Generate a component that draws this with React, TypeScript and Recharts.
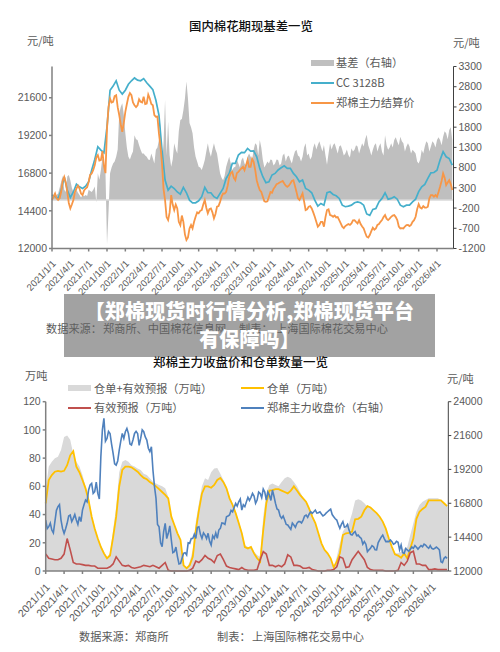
// 国内棉花期现基差 + 郑棉仓单 two-panel page, half-month samples
// the *Mid arrays hold the readings between two half-month samples (jumpy series only)

import { ComposedChart, Area, Line, XAxis, YAxis, ReferenceLine } from 'recharts'

const QUARTER_LABELS = [
  '2021/1/1', '2021/4/1', '2021/7/1', '2021/10/1', '2022/1/1', '2022/4/1', '2022/7/1', '2022/10/1',
  '2023/1/1', '2023/4/1', '2023/7/1', '2023/10/1', '2024/1/1', '2024/4/1', '2024/7/1', '2024/10/1',
  '2025/1/1', '2025/4/1', '2025/7/1', '2025/10/1', '2026/1/1', '2026/4/1',
]

const TOP_LEFT_TICKS = [12000, 14400, 16800, 19200, 21600]
const TOP_RIGHT_TICKS = [-1200, -700, -200, 300, 800, 1300, 1800, 2300, 2800, 3300]
const BOTTOM_LEFT_TICKS = [0, 20, 40, 60, 80, 100, 120]
const BOTTOM_RIGHT_TICKS = [12000, 14400, 16800, 19200, 21600, 24000]

const spotCC = [
  15400, 15300, 15200, 15700, 16560, 15720, 15250, 15600, 16100, 15930, 15820, 15970,
  16250, 17000, 17670, 18480, 18270, 18100, 19750, 22080, 22340, 22680, 22080, 21830,
  22080, 22460, 22680, 22860, 22720, 22680, 22820, 22550, 22340, 22120, 21440, 20490,
  18270, 16360, 15720, 15970, 15820, 15600, 15460, 15890, 15550, 15080, 14910, 14910,
  15040, 15300, 15890, 15550, 15550, 15300, 15190, 15510, 15820, 16460, 16780, 17420,
  17420, 17950, 18120, 18100, 18370, 18200, 18220, 17840, 17100, 16570, 16190, 16250,
  16680, 16780, 17000, 17140, 17270, 17100, 17100, 16780, 16570, 16250, 16360, 15820,
  15720, 15550, 15080, 14700, 14870, 14760, 15550, 15610, 15440, 15360, 15190, 14760,
  14660, 14700, 14760, 14910, 14970, 14910, 14760, 14200, 14110, 14490, 14550, 14970,
  15190, 15550, 15140, 15190, 15300, 15140, 14760, 14660, 14760, 14760, 14970, 15140,
  15620, 15930, 16080, 16460, 16820, 16840, 16990, 17630, 18160, 17840, 17730, 17310,
]

const settle = [
  15090, 15510, 15090, 15610, 16560, 15610, 14550, 15090, 15820, 15820, 15400, 15820,
  16250, 16780, 17310, 17950, 17630, 17270, 19640, 21550, 21340, 21760, 20490, 19430,
  20700, 21660, 21760, 21120, 21120, 21340, 21660, 21230, 21550, 21120, 20390, 19330,
  17420, 15090, 13810, 15400, 14450, 14550, 13490, 13700, 12540, 13280, 13280, 14020,
  14240, 14450, 15090, 14240, 14550, 13920, 14660, 14970, 15510, 15610, 16560, 16880,
  16350, 16880, 17100, 16990, 17630, 17200, 17520, 16350, 15720, 15300, 14970, 15300,
  15550, 15930, 16140, 16250, 16140, 15930, 16140, 16350, 15620, 15090, 15510, 14450,
  14660, 14550, 14020, 13390, 13700, 13390, 14450, 14130, 14020, 13980, 13810, 13390,
  13430, 13560, 13600, 13810, 13600, 13560, 13280, 12750, 12860, 13320, 13280, 13560,
  13810, 14130, 13810, 14020, 14130, 13810, 13280, 13280, 13490, 13430, 13700, 14020,
  14830, 14550, 14610, 14660, 15400, 15300, 15300, 15930, 16780, 16040, 16350, 15720,
]

const settleMid = [
  15300, 15200, 15200, 16300, 16200, 14900, 14800, 15600, 16000, 15500, 15700, 15900,
  16700, 17000, 17800, 17600, 18200, 16800, 21000, 21300, 21700, 21000, 19900, 20000,
  21200, 21900, 21300, 21000, 21500, 21300, 21200, 21800, 21200, 20500, 20400, 18500,
  15800, 14000, 14300, 14800, 14800, 13700, 14100, 12900, 12700, 13500, 13700, 14300,
  14400, 14800, 14600, 14500, 14300, 14200, 14700, 15300, 15500, 16000, 16800, 16500,
  16800, 17000, 17200, 17300, 17200, 17700, 17000, 16000, 15600, 15000, 15000, 15600,
  15800, 16100, 16200, 16300, 16000, 16000, 16300, 16000, 15200, 15300, 15000, 14500,
  14700, 14300, 13700, 13500, 13700, 14000, 14500, 14100, 14100, 14000, 13600, 13300,
  13500, 13500, 13800, 13700, 13800, 13400, 13000, 12700, 13100, 13200, 13500, 13700,
  14000, 13900, 13900, 14100, 14000, 13400, 13300, 13400, 13500, 13500, 13800, 14500,
  14600, 14700, 14600, 15200, 15400, 15400, 15600, 16300, 16500, 16200, 16100,
]

const basis = [
  120, 80, 160, 450, 250, 580, 490, 200, 250, 120, 120, 120,
  250, 200, 330, 660, 740, 900, -1100, 660, 900, 1070, 2140, 2390,
  1650, 1070, 1110, 1600, 1480, 1240, 1150, 1070, 990, 1030, 1240, 1480,
  900, 2470, 1940, 820, 1400, 1150, 1980, 2220, 2930, 1900, 1650, 1070,
  820, 740, 990, 1400, 1070, 1400, 1150, 660, 490, 820, 1070, 740,
  820, 900, 990, 900, 1070, 1070, 1240, 1360, 1480, 990, 870, 900,
  990, 900, 990, 900, 1150, 1070, 990, 1070, 1240, 1070, 1070, 1400,
  1150, 1070, 1400, 1360, 1320, 1360, 870, 1400, 1360, 1280, 1320, 1240,
  1150, 1110, 1280, 1240, 1320, 1280, 1320, 1610, 1240, 1240, 1400, 1320,
  1190, 1600, 1240, 1400, 1480, 1440, 1560, 1400, 1320, 1320, 1240, 1150,
  900, 1240, 1320, 1400, 1320, 1400, 1480, 1480, 1560, 1650, 1730, 1480,
]

const basisMid = [
  60, 120, 300, 600, 200, 620, 300, 150, 180, 60, 90, 100,
  220, 250, -60, 500, 1050, 700, -300, 800, 950, 1250, 2300, 2100,
  1300, 1000, 1200, 1500, 1350, 1150, 1100, 1000, 1150, 900, 1300, 1900,
  1400, 1100, 1100, 1000, 1250, 1700, 2000, 2500, 2500, 1800, 1300, 950,
  800, 850, 1200, 1200, 1250, 1250, 900, 550, 600, 950, 900, 800,
  1000, 800, 1050, 850, 1150, 1000, 1400, 1100, 1300, 800, 950, 1000,
  850, 1000, 850, 1100, 950, 1100, 900, 1200, 1100, 950, 1300, 1100,
  1000, 1300, 1250, 1450, 1200, 1100, 1150, 1250, 1400, 1150, 1350, 1100,
  1250, 1050, 1200, 1350, 1150, 1400, 1500, 1350, 1100, 1350, 1200, 1400,
  1100, 1350, 1300, 1300, 1550, 1350, 1450, 1200, 1400, 1150, 1200, 950,
  1000, 1150, 1450, 1200, 1450, 1300, 1550, 1350, 1700, 1500, 1800,
]

const receiptsPlusForecast = [
  57, 74, 77.5, 80, 81, 85.7, 95, 96, 93, 83, 77.5, 74,
  68, 60, 52.7, 39.7, 31.4, 24, 18.4, 13.7, 10, 12.5, 29, 45.6,
  70, 77.5, 78.6, 77.5, 75, 74, 72.7, 71.6, 69, 68, 65.7, 63.3,
  62, 61, 60, 58.6, 52.7, 38.5, 32.6, 26.7, 22, 4.2, 2, 6.6,
  15, 35, 48, 60, 65.7, 64.5, 70, 72.7, 73, 69, 64.5, 60,
  52.7, 48, 42, 35, 28, 18.4, 17, 17, 13.7, 11.3, 10, 38.5,
  55, 61, 62, 61, 60, 63, 65.7, 66.8, 65.7, 63, 60, 56,
  52, 49.8, 45.6, 38.5, 33.8, 26.7, 19.6, 15, 12.5, 9, 3, 10,
  19.6, 28, 31.4, 33.8, 41, 50, 50.8, 50, 48, 45.6, 44.4, 42.5,
  40.4, 38, 34.5, 30, 23, 17, 12.5, 12.5, 13.7, 16, 17, 25.5,
  33.8, 42, 46.8, 49, 50.3, 51.5, 51.5, 51.5, 51.5, 50.3, 48, 46,
]

const receipts = [
  47.9, 64.5, 68, 70.4, 71, 70.4, 71, 75, 82, 85, 74, 70,
  64.5, 58.6, 50, 38.5, 30, 23, 17, 12.5, 9, 11, 24, 38.5,
  60, 71.6, 74, 74, 73.5, 72, 70.4, 68, 66, 65, 63, 61.6,
  60, 58, 56, 54, 51.5, 38.5, 32.6, 26.7, 22, 4, 2, 4,
  10, 29, 43, 55, 60, 60, 59, 61, 64.5, 66, 63, 58.6,
  51.5, 46.8, 41, 34, 26.7, 17, 16, 17, 12.5, 9, 6.6, 29,
  48, 57, 57.4, 58, 58, 57, 56, 55, 57, 60, 57, 54,
  51.5, 49, 44, 38.5, 34, 26.7, 19.6, 15, 12.5, 9, 2.6, 6.6,
  12.5, 25.5, 26.7, 27, 28, 36.6, 37, 38.5, 43, 46, 45, 43,
  41, 38.5, 35, 30, 23, 17, 11.8, 10.9, 9.4, 12.5, 9, 16,
  23, 37, 42, 44, 45.6, 50, 50, 50, 50, 50, 48, 46,
]

const forecast = [
  12, 9, 8.5, 8, 8, 9, 12, 23, 15, 6, 5, 5,
  4.5, 4, 4, 3.5, 3.5, 2, 2, 2, 2, 3, 5, 10,
  7, 4, 3.5, 4, 2.5, 2, 2.5, 3, 4, 3.5, 3, 4,
  3, 2, 4, 6, 0.5, 0, 0, 0, 0, 0, 0, 0.5,
  2, 7, 6, 8, 11, 9, 8, 6, 11, 12, 8, 3.5,
  2.5, 2, 1.5, 1, 2.5, 1, 0.5, 0.5, 0.5, 1, 8, 13.7,
  12, 4, 4, 3, 4, 3, 5, 11.5, 10, 4, 4, 3.5,
  2, 2, 2.5, 1, 0.5, 0, 0, 0, 0.5, 0.5, 1, 3,
  10, 9, 2.5, 3, 8, 11, 14, 11, 8, 2.5, 1, 0.5,
  0.5, 0.5, 0.5, 0, 0, 0, 0, 0.5, 6, 4, 7, 13,
  14, 5, 5, 4, 4, 1, 1, 1.5, 1, 1, 1, 1,
]

const closePrice = [
  15610, 15140, 14900, 15500, 16560, 15610, 14670, 15380, 15970, 15730, 15610, 15850,
  16320, 17030, 17740, 18210, 17620, 17500, 20100, 22820, 21400, 21750, 20340, 19510,
  20570, 21750, 21870, 21750, 20930, 21750, 21750, 21400, 21870, 21280, 20460, 19160,
  17150, 15140, 13720, 15380, 14670, 14200, 13370, 13020, 12540, 13250, 13130, 13960,
  14310, 14310, 15140, 14310, 14550, 14670, 13840, 14310, 14310, 15020, 15380, 15850,
  15970, 16200, 16790, 16910, 16320, 16560, 17220, 17220, 17310, 17030, 17500, 17810,
  17030, 17390, 17740, 16790, 16320, 15730, 15610, 15260, 14950, 15260, 15380, 15500,
  15610, 15970, 16040, 16090, 16320, 16130, 16040, 15970, 16200, 16390, 15850, 15610,
  15020, 15500, 15140, 14900, 14550, 14790, 14550, 14310, 14080, 13370, 13610, 13720,
  13490, 14200, 14550, 14080, 14080, 14080, 13960, 14030, 13840, 13250, 13490, 13540,
  13610, 13680, 13680, 13720, 13840, 13610, 13610, 13610, 13610, 12660, 12900, 12900,
]

const closeMid = [
  15000, 15400, 14700, 16300, 16700, 15000, 15000, 15900, 15500, 16000, 15300, 15500,
  16700, 16900, 18100, 17500, 18300, 17100, 22000, 21200, 21900, 21000, 19600, 19800,
  21200, 21400, 22100, 21000, 21300, 21900, 20900, 22000, 21500, 20700, 20800, 18000,
  15300, 14000, 14800, 14300, 15200, 13300, 13700, 12500, 12900, 13300, 14000, 14300,
  14600, 15100, 14600, 14700, 14300, 14100, 14500, 14700, 14900, 15400, 15300, 15900,
  16300, 16500, 16600, 17100, 16700, 16900, 17000, 17500, 16800, 17600, 17200, 17600,
  17600, 17000, 17300, 16400, 15900, 15900, 15300, 15100, 15400, 15100, 15500, 15400,
  15900, 15800, 16200, 16200, 16100, 16200, 15900, 16100, 16300, 16000, 15700, 15300,
  15300, 15100, 15300, 14600, 14700, 14500, 14400, 13900, 13900, 13500, 13800, 13500,
  14000, 14400, 14300, 14100, 14200, 13900, 14100, 13500, 13300, 13600, 13400, 13700,
  13800, 13550, 13800, 13900, 13700, 13800, 13550, 13700, 13500, 12600, 13000,
]

const topRows = spotCC.flatMap((v, i) => {
  const row = { t: i, spot: v, settle: settle[i], basis: basis[i] }
  return i < settleMid.length ? [row, { t: i + 0.5, settle: settleMid[i], basis: basisMid[i] }] : [row]
})
const bottomRows = receipts.flatMap((v, i) => {
  const row = { t: i, total: receiptsPlusForecast[i], receipts: v, forecast: forecast[i], close: closePrice[i] }
  return i < closeMid.length ? [row, { t: i + 0.5, close: closeMid[i] }] : [row]
})

const quarterTicks = QUARTER_LABELS.map((_, i) => i * 6)
const CJK = '"Noto Sans CJK SC", "Noto Sans", sans-serif'
const LATIN = '"Liberation Sans", Arial, sans-serif'
const GREY_TEXT = '#595959'
const tickStyle = { fill: GREY_TEXT, fontSize: 10.5, fontFamily: LATIN }

function DateTick({ x, y, payload, size = 10, shift = 0 }: any) {
  return (
    <text x={x} y={y} dx={2 - shift / 2} dy={11 + shift} fill={GREY_TEXT} fontSize={size} fontFamily={LATIN}
          textAnchor="end" transform={`rotate(-47 ${x} ${y + 8})`}>
      {QUARTER_LABELS[payload.value / 6]}
    </text>
  )
}

function Label({ x, y, text, size = 11.2, weight = 400, color = GREY_TEXT }: any) {
  return (
    <div style={{ position: 'absolute', left: x, top: y, fontSize: size, fontWeight: weight, color,
                  fontFamily: CJK, lineHeight: '16px', whiteSpace: 'nowrap' }}>
      {text}
    </div>
  )
}

function Swatch({ x, y, color, thick = 2 }: any) {
  return <div style={{ position: 'absolute', left: x, top: y - thick / 2, width: 23, height: thick, background: color }} />
}

export default function App() {
  return (
    <div style={{ position: 'absolute', left: 0, top: 0, width: 500, height: 652, background: '#fff', overflow: 'hidden' }}>
      <div style={{ position: 'absolute', left: 0, top: 0 }}>
        <ComposedChart width={500} height={320} data={topRows} margin={{ top: 66.5, right: 0, bottom: 20, left: 0 }}>
          <XAxis dataKey="t" type="number" domain={[0, 131.4]} ticks={quarterTicks} interval={0} height={51.5}
                 tick={<DateTick size={9.6} shift={2} />} stroke="#808080" strokeWidth={1.5} tickSize={3} allowDecimals={false} />
          <YAxis yAxisId="left" domain={[12000, 23590]} ticks={TOP_LEFT_TICKS} width={52} interval={0}
                 tick={tickStyle} stroke="#808080" strokeWidth={1.5} tickSize={3} />
          <YAxis yAxisId="right" orientation="right" domain={[-1200, 3300]} ticks={TOP_RIGHT_TICKS} width={46.5} interval={0}
                 tick={tickStyle} stroke="#404040" tickSize={3} />
          <Area yAxisId="right" dataKey="basis" baseValue={0} fill="#bfbfbf" fillOpacity={1} stroke="none" connectNulls
                type="linear" isAnimationActive={false} dot={false} activeDot={false} />
          <ReferenceLine yAxisId="right" y={0} stroke="#d9d9d9" strokeWidth={1.5} />
          <Line yAxisId="left" dataKey="spot" stroke="#45afcb" strokeWidth={1.7} dot={false} connectNulls type="linear" isAnimationActive={false} />
          <Line yAxisId="left" dataKey="settle" stroke="#f79646" strokeWidth={1.8} dot={false} connectNulls type="linear" isAnimationActive={false} />
        </ComposedChart>
      </div>

      <div style={{ position: 'absolute', left: 0, top: 352 }}>
        <ComposedChart width={500} height={290} data={bottomRows} margin={{ top: 49.7, right: 0, bottom: 20, left: 0 }}>
          <XAxis dataKey="t" type="number" domain={[0, 131.4]} ticks={quarterTicks} interval={0} height={51}
                 tick={<DateTick size={10.5} shift={3} />} stroke="#808080" strokeWidth={1.5} tickSize={3} allowDecimals={false} />
          <YAxis yAxisId="left" domain={[0, 120]} ticks={BOTTOM_LEFT_TICKS} width={45.7} interval={0}
                 tick={tickStyle} stroke="#808080" strokeWidth={1.5} tickSize={3} />
          <YAxis yAxisId="right" orientation="right" domain={[12000, 24000]} ticks={BOTTOM_RIGHT_TICKS} width={51.7} interval={0}
                 tick={tickStyle} stroke="#404040" tickSize={3} />
          <Area yAxisId="left" dataKey="total" fill="#d9d9d9" fillOpacity={1} stroke="none" connectNulls
                type="linear" isAnimationActive={false} dot={false} activeDot={false} />
          <Line yAxisId="left" dataKey="receipts" stroke="#ffc000" strokeWidth={1.8} dot={false} connectNulls type="linear" isAnimationActive={false} />
          <Line yAxisId="left" dataKey="forecast" stroke="#c0504d" strokeWidth={1.6} dot={false} connectNulls type="linear" isAnimationActive={false} />
          <Line yAxisId="right" dataKey="close" stroke="#4f81bd" strokeWidth={1.6} dot={false} connectNulls type="linear" isAnimationActive={false} />
        </ComposedChart>
      </div>

      <Label x={189} y={18} text="国内棉花期现基差一览" size={12.4} weight={500} color="#111" />
      <Label x={27} y={32} text="元/吨" />
      <Label x={453} y={34} text="元/吨" />

      <Swatch x={311} y={62.5} color="#bfbfbf" thick={6} />
      <Label x={336} y={54} text="基差（右轴）" />
      <Swatch x={311} y={82.5} color="#45afcb" />
      <Label x={336} y={74} text="CC 3128B" />
      <Swatch x={311} y={102.5} color="#f79646" />
      <Label x={336} y={94} text="郑棉主力结算价" />

      <Label x={46} y={320} text="数据来源：" />
      <Label x={103} y={320} text="郑商所、中国棉花信息网、" />
      <Label x={239} y={320} text="制表：" />
      <Label x={276} y={320} text="上海国际棉花交易中心" />

      <div style={{ position: 'absolute', left: 64, top: 294, width: 371, height: 63, background: 'rgba(100,100,100,0.6)',
                    color: '#fff', fontFamily: CJK, fontWeight: 900, fontSize: 20, letterSpacing: 0.15, lineHeight: '28px',
                    textAlign: 'center', paddingTop: 3, boxSizing: 'border-box' }}>
        【郑棉现货时行情分析,郑棉现货平台<br />有保障吗】
      </div>

      <Label x={153} y={354} text="郑棉主力收盘价和仓单数量一览" size={12.5} weight={500} color="#111" />
      <Label x={25} y={367} text="万吨" />
      <Label x={447} y={370} text="元/吨" />

      <Swatch x={68} y={388} color="#d9d9d9" thick={6} />
      <Label x={94} y={380} text="仓单+有效预报（万吨）" />
      <Swatch x={241} y={388} color="#ffc000" />
      <Label x={267} y={380} text="仓单（万吨）" />
      <Swatch x={68} y={407.5} color="#c0504d" />
      <Label x={94} y={399} text="有效预报（万吨）" />
      <Swatch x={241} y={407.5} color="#4f81bd" />
      <Label x={267} y={399} text="郑棉主力收盘价（右轴）" />

      <Label x={79} y={628} text="数据来源：" />
      <Label x={135} y={628} text="郑商所" />
      <Label x={217} y={628} text="制表：" />
      <Label x={252} y={628} text="上海国际棉花交易中心" />
    </div>
  )
}
